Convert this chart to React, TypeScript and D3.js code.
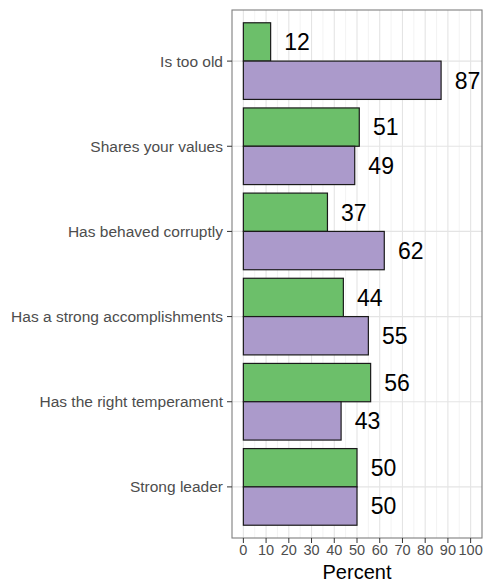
import React from "react";
import * as d3 from "d3";

const categories = [
  "Is too old",
  "Shares your values",
  "Has behaved corruptly",
  "Has a strong accomplishments",
  "Has the right temperament",
  "Strong leader",
];
const greenValues = [12, 51, 37, 44, 56, 50];
const purpleValues = [87, 49, 62, 55, 43, 50];
const xTicks = [0, 10, 20, 30, 40, 50, 60, 70, 80, 90, 100];
const minorTicks = [5, 15, 25, 35, 45, 55, 65, 75, 85, 95];
const seriesNames = ["green", "purple"];

const W = 485;
const H = 583;
const panel = { left: 232, right: 482, top: 10, bottom: 538 };

export default function App() {
  const x = d3.scaleLinear().domain([-5, 105]).range([panel.left, panel.right]);
  const step = (panel.bottom - panel.top) / (categories.length - 1 + 1.2);
  const center = (i: number) => panel.top + step * (0.6 + i);
  const barW = step * 0.9;
  const sub = d3.scaleBand().domain(seriesNames).range([-barW / 2, barW / 2]);
  const colors: Record<string, string> = { green: "#6cbf6a", purple: "#ab9acb" };
  const data = categories.map((c, i) => ({
    c,
    i,
    vals: [
      { s: "green", v: greenValues[i] },
      { s: "purple", v: purpleValues[i] },
    ],
  }));
  return (
    <svg
      width={W}
      height={H}
      style={{ position: "absolute", left: 0, top: 0, fontFamily: "Liberation Sans, Arial, sans-serif" }}
    >
      <rect x={0} y={0} width={W} height={H} fill="#fff" />
      {minorTicks.map((t) => (
        <line key={"m" + t} x1={x(t)} x2={x(t)} y1={panel.top} y2={panel.bottom} stroke="#ebebeb" strokeWidth={0.6} />
      ))}
      {xTicks.map((t) => (
        <line key={"g" + t} x1={x(t)} x2={x(t)} y1={panel.top} y2={panel.bottom} stroke="#e4e4e4" strokeWidth={1.1} />
      ))}
      {categories.map((c, i) => (
        <line key={"h" + c} x1={panel.left} x2={panel.right} y1={center(i)} y2={center(i)} stroke="#e4e4e4" strokeWidth={1.1} />
      ))}
      {data.map((d) =>
        d.vals.map((b) => (
          <rect
            key={d.c + b.s}
            x={x(0)}
            y={center(d.i) + (sub(b.s) as number)}
            width={x(b.v) - x(0)}
            height={sub.bandwidth()}
            fill={colors[b.s]}
            stroke="#1a1a1a"
            strokeWidth={1.2}
          />
        ))
      )}
      {data.map((d) =>
        d.vals.map((b) => (
          <text
            key={"t" + d.c + b.s}
            x={x(b.v + 6)}
            y={center(d.i) + (sub(b.s) as number) + sub.bandwidth() / 2}
            dy="0.36em"
            fontSize={23}
            fill="#000"
          >
            {b.v}
          </text>
        ))
      )}
      <rect
        x={panel.left}
        y={panel.top}
        width={panel.right - panel.left}
        height={panel.bottom - panel.top}
        fill="none"
        stroke="#7f7f7f"
        strokeWidth={1.1}
      />
      {categories.map((c, i) => (
        <g key={"yl" + c}>
          <line x1={panel.left - 5} x2={panel.left} y1={center(i)} y2={center(i)} stroke="#333" strokeWidth={1} />
          <text x={panel.left - 9} y={center(i)} dy="0.35em" textAnchor="end" fontSize={15.5} fill="#4d4d4d">
            {c}
          </text>
        </g>
      ))}
      {xTicks.map((t) => (
        <g key={"xl" + t}>
          <line x1={x(t)} x2={x(t)} y1={panel.bottom} y2={panel.bottom + 5} stroke="#333" strokeWidth={1} />
          <text x={x(t)} y={panel.bottom + 17} textAnchor="middle" fontSize={14.5} fill="#4d4d4d">
            {t}
          </text>
        </g>
      ))}
      <text x={(panel.left + panel.right) / 2} y={579} textAnchor="middle" fontSize={20} fill="#000">
        Percent
      </text>
    </svg>
  );
}
